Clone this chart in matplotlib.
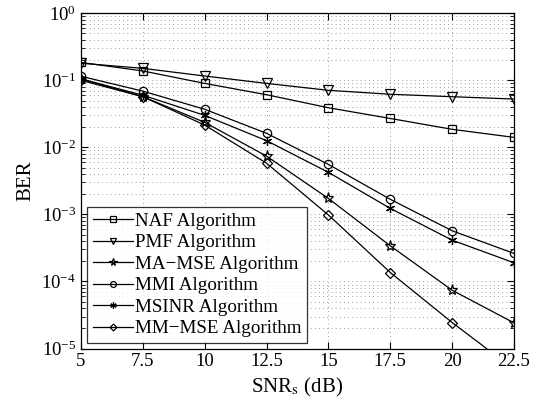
import matplotlib
matplotlib.use("Agg")
import matplotlib.pyplot as plt
from matplotlib.ticker import LogLocator, FixedLocator, NullFormatter

plt.rcParams['font.family'] = ['Liberation Serif', 'DejaVu Serif']
plt.rcParams['mathtext.fontset'] = 'stix'

snr = [5, 7.5, 10, 12.5, 15, 17.5, 20, 22.5]
naf = [0.185, 0.138, 0.090, 0.061, 0.039, 0.027, 0.0186, 0.0141]
pmf = [0.180, 0.151, 0.116, 0.090, 0.071, 0.062, 0.057, 0.0526]
ma_mse = [0.105, 0.057, 0.0236, 0.0074, 0.00173, 0.00034, 7.4e-5, 2.41e-5]
mmi = [0.115, 0.069, 0.037, 0.0162, 0.00557, 0.00168, 0.00057, 2.62e-4]
msinr = [0.105, 0.060, 0.030, 0.0126, 0.00424, 0.00123, 0.000413, 1.9e-4]
mm_mse = [0.100, 0.057, 0.0215, 0.0058, 0.00098, 0.000136, 2.44e-5, 4.9e-6]

series = [
    ("NAF Algorithm", naf, 's', 5.5),
    ("PMF Algorithm", pmf, 'v', 6.5),
    ("MA\u2212MSE Algorithm", ma_mse, '*', 8),
    ("MMI Algorithm", mmi, 'o', 6),
    ("MSINR Algorithm", msinr, (6, 2, 0), 6.5),
    ("MM\u2212MSE Algorithm", mm_mse, 'D', 5),
]

fig = plt.figure(figsize=(5.44, 4.15), dpi=100)
ax = fig.add_axes([81/544, 1 - 348.5/415, (514 - 81)/544, (348.5 - 13.3)/415])

for label, vals, mk, ms in series:
    ax.semilogy(snr, vals, color='black', linewidth=0.9, marker=mk,
                markersize=ms, markerfacecolor='none', markeredgecolor='black',
                markeredgewidth=0.9, label=label)

ax.set_xlim(5, 22.5)
ax.set_ylim(1e-5, 1)
ax.xaxis.set_major_locator(FixedLocator(snr))
ax.set_xticklabels(['5', '7.5', '10', '12.5', '15', '17.5', '20', '22.5'])
ax.yaxis.set_major_locator(LogLocator(base=10, numticks=10))
ax.yaxis.set_minor_locator(LogLocator(base=10, subs=range(2, 10), numticks=20))
ax.yaxis.set_minor_formatter(NullFormatter())

gridstyle = dict(linestyle=(0, (1, 4)), color='#808080', linewidth=0.6)
ax.grid(True, which='major', axis='both', **gridstyle)
ax.grid(True, which='minor', axis='y', **gridstyle)

ax.tick_params(which='both', direction='in', top=True, right=True, labelsize=13.5)
ax.tick_params(which='major', length=5)
ax.tick_params(which='minor', length=3)
for s in ax.spines.values():
    s.set_linewidth(0.9)

ax.set_xlabel(r'SNR$_\mathrm{s}$ (dB)', fontsize=15)
ax.set_ylabel('BER', fontsize=15)

leg = ax.legend(loc='lower left', bbox_to_anchor=(6/433, 5.5/335.2),
                fontsize=13.7, frameon=True, fancybox=False,
                edgecolor='black', handlelength=2.1, borderpad=0.3,
                labelspacing=0.22, handletextpad=0.12, borderaxespad=0.0,
                markerscale=0.7)
leg.get_frame().set_linewidth(0.9)

fig.savefig('out.png', dpi=100)
